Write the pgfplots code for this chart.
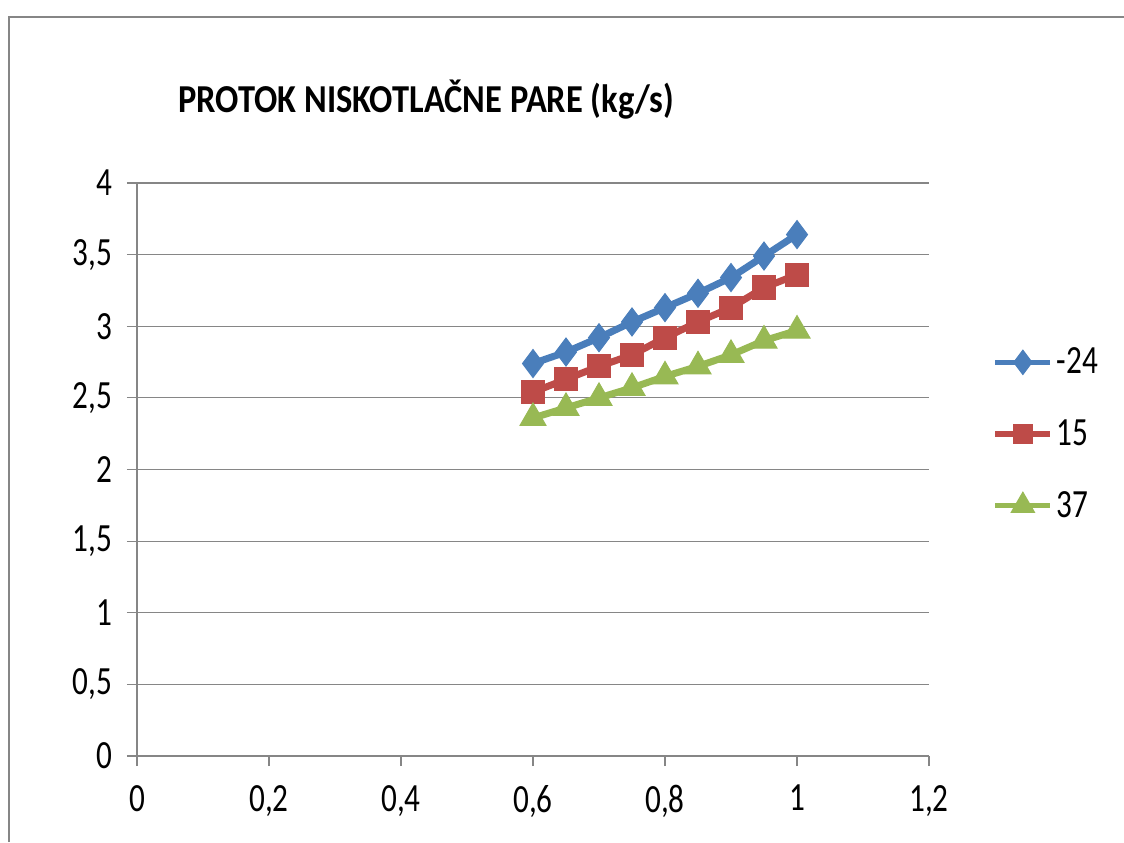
\documentclass[border=0pt]{standalone}
\usepackage{fontspec}
\setmainfont[FakeStretch=0.78]{Carlito}
\newfontfamily\titlefont[FakeStretch=0.87]{Carlito}
\usepackage{pgfplots}
\pgfplotsset{compat=1.18}
\definecolor{sblue}{HTML}{4A7EBB}
\definecolor{sred}{HTML}{BE4B48}
\definecolor{sgreen}{HTML}{98B954}
\definecolor{gridc}{HTML}{868686}
\begin{document}
\begin{tikzpicture}[x=1pt,y=1pt]
\useasboundingbox (0,0) rectangle (562,-421);
\draw[gridc,line width=1.1pt] (4.4,-421) -- (4.4,-8.3) -- (562,-8.3);
\node[anchor=west,font=\titlefont\bfseries\fontsize{19.8}{22}\selectfont,inner sep=0] at (89,-50) {PROTOK NISKOTLAČNE PARE (kg/s)};
\begin{axis}[
  at={(68.5pt,-378pt)}, anchor=south west,
  scale only axis, width=396pt, height=286.5pt,
  xmin=0, xmax=1.2, ymin=0, ymax=4,
  xtick={0,0.2,...,1.2}, ytick={0,0.5,...,4},
  axis x line*=bottom, axis y line*=left,
  axis line style={gridc,line width=0.6pt,-},
  ymajorgrids, grid style={gridc,line width=0.6pt},
  tick style={gridc,line width=0.6pt},
  tick align=outside, major tick length=5pt,
  ticklabel style={font=\fontsize{20}{22}\selectfont},
  /pgf/number format/use comma, /pgf/number format/assume math mode=true,
  xticklabel style={yshift=-6pt},
  yticklabel style={xshift=-4pt},
  legend style={at={(1.08,0.72)}, anchor=north west, draw=none, fill=none,
    font=\fontsize{20}{22}\selectfont, row sep=17.4pt, inner sep=0pt,
    /tikz/every even column/.append style={column sep=2pt}},
  legend cell align=left,
  legend image code/.code={\draw[line width=2.6pt,mark repeat=2,mark phase=2,mark options={scale=0.62}] plot coordinates {(0pt,0pt)(13.75pt,0pt)(27.5pt,0pt)};},
]
\addplot[sblue, line width=3.5pt, mark=diamond*, mark size=7pt, mark options={line width=0.5pt}] coordinates {
(0.6,2.74)(0.65,2.82)(0.7,2.92)(0.75,3.03)(0.8,3.13)(0.85,3.23)(0.9,3.34)(0.95,3.49)(1.0,3.64)};
\addlegendentry{-24}
\addplot[sred, line width=3.5pt, mark=square*, mark size=5.8pt, mark options={line width=0.5pt}] coordinates {
(0.6,2.54)(0.65,2.63)(0.7,2.72)(0.75,2.80)(0.8,2.92)(0.85,3.03)(0.9,3.13)(0.95,3.27)(1.0,3.36)};
\addlegendentry{15}
\addplot[sgreen, line width=3.5pt, mark=triangle*, mark size=7.5pt, mark options={line width=0.5pt}] coordinates {
(0.6,2.36)(0.65,2.43)(0.7,2.50)(0.75,2.57)(0.8,2.65)(0.85,2.72)(0.9,2.80)(0.95,2.90)(1.0,2.97)};
\addlegendentry{37}
\end{axis}
\end{tikzpicture}
\end{document}
